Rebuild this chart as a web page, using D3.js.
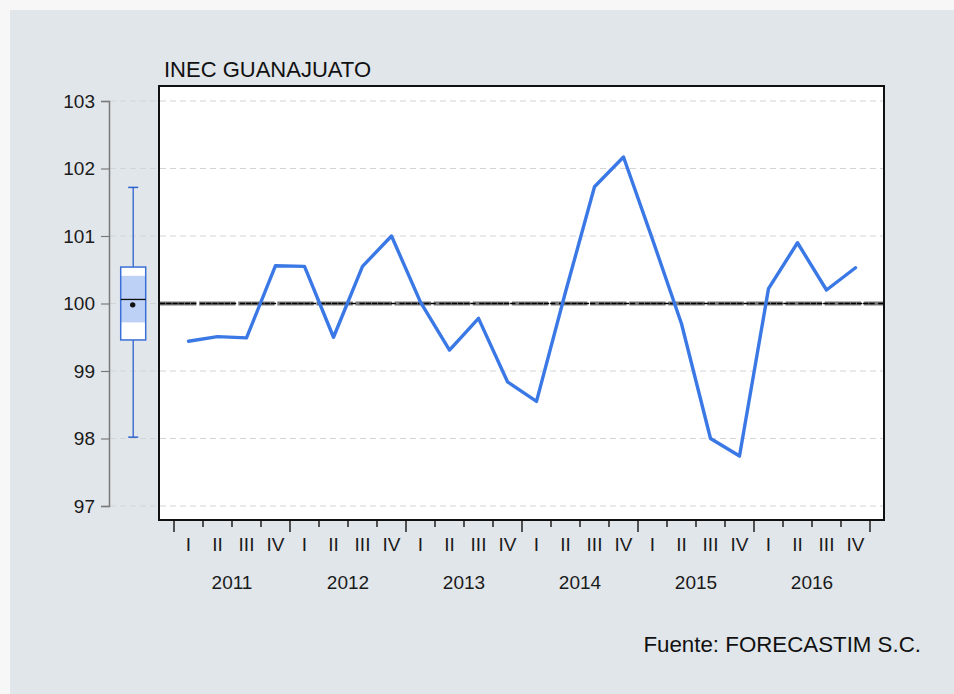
<!DOCTYPE html>
<html lang="es">
<head>
<meta charset="UTF-8">
<title>INEC GUANAJUATO</title>
<script src="https://d3js.org/d3.v7.min.js"></script>
<style>
  html, body { margin: 0; padding: 0; background: #f7f7f7; }
  svg { display: block; font-family: "Liberation Sans", Arial, sans-serif; }
</style>
</head>
<body>
<script>
  // data
  var years = ["2011", "2012", "2013", "2014", "2015", "2016"];
  var quarters = ["I", "II", "III", "IV"];
  var values = [
    99.44, 99.51, 99.49, 100.56,
    100.55, 99.50, 100.55, 101.00,
    100.02, 99.31, 99.78, 98.84,
    98.55, 100.17, 101.73, 102.17,
    100.95, 99.70, 98.00, 97.74,
    100.22, 100.90, 100.20, 100.53
  ];
  var yTicks = [97, 98, 99, 100, 101, 102, 103];
  var refValue = 100;
  // box plot summary shown at the left
  var boxStats = {
    whiskLow: 98.02, q1: 99.46, ciLow: 99.72, median: 100.06,
    mean: 99.98, ciHigh: 100.41, q3: 100.54, whiskHigh: 101.72
  };

  var width = 954, height = 694;
  var frame = { left: 159, right: 884, top: 86, bottom: 520 };

  var periods = [];
  years.forEach(y => quarters.forEach(q => periods.push(y + "-" + q)));
  var series = periods.map((p, i) => ({ id: p, q: p.split("-")[1], v: values[i] }));

  var svg = d3.select("body").append("svg")
    .attr("width", width)
    .attr("height", height);

  // background panel
  svg.append("rect").attr("x", 0).attr("y", 0).attr("width", width).attr("height", height).attr("fill", "#f7f7f7");
  svg.append("rect").attr("x", 10).attr("y", 10).attr("width", width - 10).attr("height", height - 10).attr("fill", "#e1e6ea");

  var x = d3.scaleBand()
    .domain(periods)
    .range([174, 870])
    .padding(0);

  var xYear = d3.scaleBand()
    .domain(years)
    .range([174, 870])
    .padding(0);

  var y = d3.scaleLinear()
    .domain([97, 103])
    .range([506, 101]);

  // plot frame fill
  svg.append("rect")
    .attr("x", frame.left).attr("y", frame.top)
    .attr("width", frame.right - frame.left).attr("height", frame.bottom - frame.top)
    .attr("fill", "white");

  // grid lines
  svg.append("g").selectAll("line")
    .data(yTicks)
    .join("line")
    .attr("x1", 110).attr("x2", frame.right)
    .attr("y1", d => y(d)).attr("y2", d => y(d))
    .attr("stroke", "#d4d4d4")
    .attr("stroke-width", 1)
    .attr("stroke-dasharray", "6,4");

  // y axis
  var yAxis = svg.append("g")
    .attr("transform", "translate(109,0)")
    .call(d3.axisLeft(y).tickValues(yTicks).tickFormat(d3.format("d")).tickSize(8).tickPadding(6));
  yAxis.select(".domain").attr("stroke", "#7a7a7a").attr("stroke-width", 1.5);
  yAxis.selectAll(".tick line").attr("stroke", "#7a7a7a").attr("stroke-width", 1.2);
  yAxis.selectAll(".tick text")
    .attr("fill", "#1a1a1a")
    .style("font-size", "19px");

  // reference line at 100
  svg.append("line")
    .attr("x1", frame.left + 1).attr("x2", frame.right)
    .attr("y1", y(refValue)).attr("y2", y(refValue))
    .attr("stroke", "#7a7a7a")
    .attr("stroke-width", 4)
    .attr("stroke-dasharray", "36.4,2.7");
  svg.append("line")
    .attr("x1", frame.left + 1).attr("x2", frame.right)
    .attr("y1", y(refValue)).attr("y2", y(refValue))
    .attr("stroke", "#000")
    .attr("stroke-width", 1.6)
    .attr("stroke-dasharray", "5.3,0.9,5.3,0.9,5.3,0.9,5.3,0.9,5.3,0.9,5.3,3.6");

  // series line
  var line = d3.line()
    .x(d => x(d.id) + x.bandwidth() / 2)
    .y(d => y(d.v));

  svg.append("path")
    .datum(series)
    .attr("fill", "none")
    .attr("stroke", "#3a78e6")
    .attr("stroke-width", 3.4)
    .attr("stroke-linejoin", "round")
    .attr("stroke-linecap", "round")
    .attr("d", line);

  // frame border
  svg.append("rect")
    .attr("x", frame.left).attr("y", frame.top)
    .attr("width", frame.right - frame.left).attr("height", frame.bottom - frame.top)
    .attr("fill", "none")
    .attr("stroke", "#111")
    .attr("stroke-width", 2);

  // x ticks: quarter boundaries, long ones at year boundaries
  var bounds = periods.map(p => x(p)).concat([x.range()[1]]);
  svg.append("g").selectAll("line")
    .data(bounds)
    .join("line")
    .attr("x1", d => d).attr("x2", d => d)
    .attr("y1", frame.bottom + 1)
    .attr("y2", (d, i) => i % 4 === 0 ? 532 : 527)
    .attr("stroke", "#111")
    .attr("stroke-width", 1.4);

  // quarter labels
  svg.append("g").selectAll("text")
    .data(series)
    .join("text")
    .attr("x", d => x(d.id) + x.bandwidth() / 2)
    .attr("y", 551)
    .attr("text-anchor", "middle")
    .attr("fill", "#1a1a1a")
    .style("font-size", "19px")
    .text(d => d.q);

  // year labels
  svg.append("g").selectAll("text")
    .data(years)
    .join("text")
    .attr("x", d => xYear(d) + xYear.bandwidth() / 2)
    .attr("y", 589)
    .attr("text-anchor", "middle")
    .attr("fill", "#1a1a1a")
    .style("font-size", "19px")
    .text(d => d);

  // box plot
  var bx = 133.2, bw = 25;
  var box = svg.append("g");
  box.append("line")
    .attr("x1", bx).attr("x2", bx)
    .attr("y1", y(boxStats.whiskHigh)).attr("y2", y(boxStats.whiskLow))
    .attr("stroke", "#2f62cf").attr("stroke-width", 1.3);
  [boxStats.whiskHigh, boxStats.whiskLow].forEach(v => {
    box.append("line")
      .attr("x1", bx - 5).attr("x2", bx + 5)
      .attr("y1", y(v)).attr("y2", y(v))
      .attr("stroke", "#2f62cf").attr("stroke-width", 1.5);
  });
  box.append("rect")
    .attr("x", bx - bw / 2).attr("y", y(boxStats.q3))
    .attr("width", bw).attr("height", y(boxStats.q1) - y(boxStats.q3))
    .attr("fill", "white");
  box.append("rect")
    .attr("x", bx - bw / 2).attr("y", y(boxStats.ciHigh))
    .attr("width", bw).attr("height", y(boxStats.ciLow) - y(boxStats.ciHigh))
    .attr("fill", "#bdd1f6");
  box.append("rect")
    .attr("x", bx - bw / 2).attr("y", y(boxStats.q3))
    .attr("width", bw).attr("height", y(boxStats.q1) - y(boxStats.q3))
    .attr("fill", "none")
    .attr("stroke", "#3a6fd8").attr("stroke-width", 1.5);
  box.append("line")
    .attr("x1", bx - bw / 2).attr("x2", bx + bw / 2)
    .attr("y1", y(boxStats.median)).attr("y2", y(boxStats.median))
    .attr("stroke", "#111").attr("stroke-width", 1.3);
  box.append("circle")
    .attr("cx", bx - 0.5).attr("cy", y(boxStats.mean))
    .attr("r", 2.7)
    .attr("fill", "#111");

  // title and source
  svg.append("text")
    .attr("x", 164).attr("y", 77)
    .attr("fill", "#111")
    .style("font-size", "22px")
    .text("INEC GUANAJUATO");

  svg.append("text")
    .attr("x", 921).attr("y", 652)
    .attr("text-anchor", "end")
    .attr("fill", "#111")
    .style("font-size", "22.3px")
    .text("Fuente: FORECASTIM S.C.");
</script>
</body>
</html>
